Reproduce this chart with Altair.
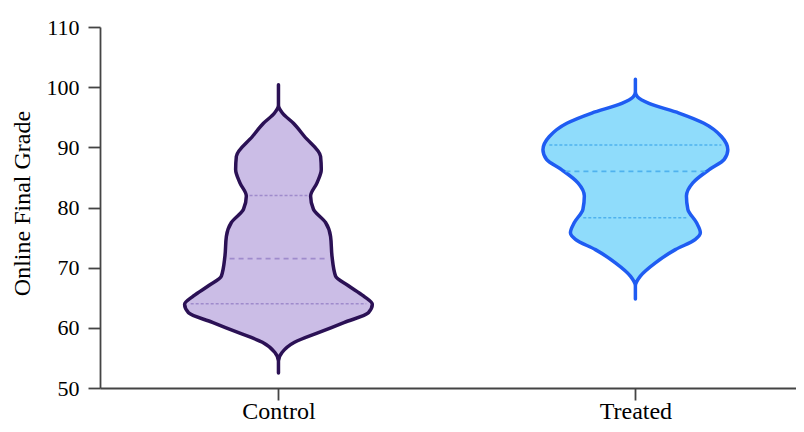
import altair as alt
import pandas as pd

GROUPS = ["Control", "Treated"]

# violin outline: grade levels and half-width (in group-axis units)
CONTROL_GRADE = [52.5, 54.5, 55.9, 57.6, 59.2, 60.9, 62.5, 63.9, 65.3, 67.0, 68.6, 71.9,
                 75.2, 77.5, 79.7, 81.9, 84.1, 86.3, 88.5, 91.8, 94.0, 95.7, 97.0, 100.4]
CONTROL_HALF = [0, 0, 0.010, 0.045, 0.112, 0.185, 0.252, 0.263, 0.238, 0.196, 0.160, 0.150,
                0.146, 0.132, 0.098, 0.090, 0.108, 0.120, 0.118, 0.073, 0.042, 0.011, 0, 0]

TREATED_GRADE = [64.8, 67.0, 68.6, 70.8, 73.0, 74.7, 75.8, 77.5, 79.7, 81.9, 84.1, 86.3,
                 88.0, 89.6, 91.8, 94.0, 95.7, 97.3, 98.4, 99.2, 101.3]
TREATED_HALF = [0, 0, 0.014, 0.056, 0.112, 0.168, 0.182, 0.171, 0.147, 0.143, 0.161, 0.207,
                0.249, 0.259, 0.241, 0.192, 0.122, 0.038, 0.006, 0, 0]

# quartile lines (Q1, median, Q3) and their half-widths
CONTROL_Q = [64.0, 71.5, 82.0]
CONTROL_Q_HALF = [0.246, 0.137, 0.081]
TREATED_Q = [78.3, 86.0, 90.4]
TREATED_Q_HALF = [0.146, 0.196, 0.241]

FILLS = ["#cbbde6", "#8fdcfb"]
STROKES = ["#2b1155", "#1f5cf2"]
DASHES = ["#9f8bcc", "#4fb2ee"]

FONT = "Liberation Serif"

shapes = [(CONTROL_GRADE, CONTROL_HALF), (TREATED_GRADE, TREATED_HALF)]
quarts = [(CONTROL_Q, CONTROL_Q_HALF), (TREATED_Q, TREATED_Q_HALF)]

label_expr = "[" + ",".join("'" + g + "'" for g in GROUPS) + "][datum.value]"

xscale = alt.Scale(domain=[-0.5, 1.45], nice=False, zero=False)
yscale = alt.Scale(domain=[50, 110], nice=False, zero=False)

xaxis = alt.Axis(values=[0, 1], labelExpr=label_expr, title=None, grid=False,
                 tickSize=12, labelPadding=18, labelBaseline="alphabetic",
                 labelFont=FONT, labelFontSize=24,
                 labelColor="#000", domainColor="#444", tickColor="#444",
                 domainWidth=1.8, tickWidth=1.8)
yaxis = alt.Axis(values=list(range(50, 111, 10)), title="Online Final Grade", grid=False,
                 tickSize=12, labelPadding=9, labelFont=FONT, labelFontSize=22,
                 labelColor="#000", domainColor="#444", tickColor="#444",
                 domainWidth=1.8, tickWidth=1.8, titleFont=FONT, titleFontSize=24,
                 titleFontWeight="normal", titleColor="#000", titleX=-78, titleY=176,
                 titleAngle=270, titleAlign="center", titleBaseline="middle")

layers = []
for i, g in enumerate(GROUPS):
    grades, halves = shapes[i]
    df = pd.DataFrame({"grade": grades, "half": halves})
    df["pos"] = i
    area = alt.Chart(df).transform_calculate(
        left="datum.pos - datum.half", right="datum.pos + datum.half"
    ).mark_area(orient="horizontal", interpolate="monotone", fill=FILLS[i],
                stroke=STROKES[i], strokeWidth=3.5, strokeJoin="round").encode(
        y=alt.Y("grade:Q", scale=yscale, axis=yaxis),
        x=alt.X("left:Q", scale=xscale, axis=xaxis),
        x2="right:Q",
    )
    layers.append(area)

    qg, qh = quarts[i]
    qdf = pd.DataFrame({"grade": qg, "half": qh, "kind": ["q", "m", "q"]})
    qdf["pos"] = i
    for kind, dash in [("q", [3, 2]), ("m", [5, 4])]:
        rule = alt.Chart(qdf).transform_filter(
            alt.datum.kind == kind
        ).transform_calculate(
            left="datum.pos - datum.half", right="datum.pos + datum.half"
        ).mark_rule(color=DASHES[i], strokeWidth=1.6, strokeDash=dash).encode(
            y=alt.Y("grade:Q", scale=yscale, axis=yaxis),
            x=alt.X("left:Q", scale=xscale, axis=xaxis),
            x2="right:Q",
        )
        layers.append(rule)

chart = alt.layer(*layers).properties(
    width=696, height=361,
    autosize=alt.AutoSizeParams(type="none"),
    padding={"left": 92, "top": 19, "right": 0, "bottom": 36},
    background="white",
).configure_view(stroke=None)

chart.save("out.html", embed_options={"renderer": "svg", "actions": False})
